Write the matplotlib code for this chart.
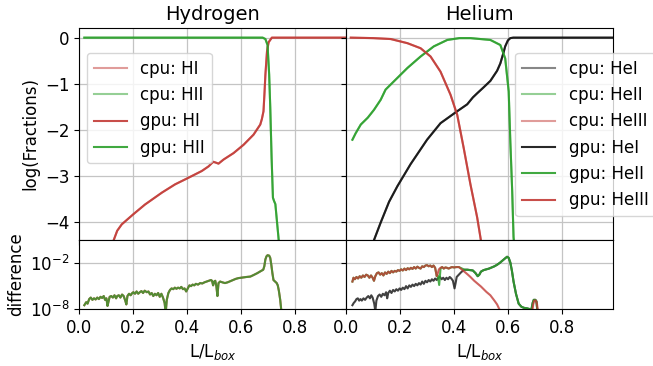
import numpy as np
import matplotlib.pyplot as plt

# ---- Hydrogen fractions (log10) ----
hi_x = [0.118, 0.126, 0.14, 0.157, 0.2, 0.243, 0.306, 0.355, 0.4, 0.454, 0.479, 0.491,
        0.497, 0.507, 0.516, 0.535, 0.572, 0.609, 0.646, 0.671, 0.677, 0.683, 0.687,
        0.69, 0.696, 0.702, 0.714, 0.99]
hi_y = [-4.6, -4.42, -4.2, -4.06, -3.84, -3.63, -3.37, -3.19, -3.06, -2.90, -2.80, -2.73,
        -2.70, -2.72, -2.74, -2.65, -2.51, -2.33, -2.11, -1.89, -1.77, -1.60, -1.17,
        -0.81, -0.30, -0.10, 0.0, 0.0]
hii_x = [0.018, 0.68, 0.69, 0.698, 0.704, 0.708, 0.713, 0.718, 0.722, 0.727, 0.733, 0.741]
hii_y = [0.0, 0.0, -0.03, -0.16, -0.8, -1.5, -2.6, -3.48, -3.55, -3.62, -4.0, -4.5]

# ---- Helium fractions (log10) ----
hei_x = [0.1, 0.128, 0.159, 0.19, 0.239, 0.3, 0.35, 0.412, 0.449, 0.47, 0.486, 0.51,
         0.535, 0.56, 0.572, 0.584, 0.59, 0.6, 0.609, 0.62, 0.99]
hei_y = [-4.45, -4.02, -3.57, -3.23, -2.75, -2.22, -1.86, -1.60, -1.45, -1.3, -1.21, -1.08,
         -0.94, -0.72, -0.56, -0.32, -0.19, -0.06, -0.01, 0.0, 0.0]
heii_x = [0.023, 0.035, 0.054, 0.08, 0.103, 0.128, 0.146, 0.177, 0.227, 0.276, 0.325,
          0.375, 0.42, 0.461, 0.535, 0.572, 0.59, 0.603, 0.609, 0.616, 0.621, 0.625]
heii_y = [-2.22, -2.08, -1.89, -1.74, -1.57, -1.35, -1.13, -0.95, -0.66, -0.41, -0.19,
          -0.05, -0.01, -0.01, -0.05, -0.16, -0.45, -1.17, -2.25, -3.34, -4.34, -4.6]
heiii_x = [0.017, 0.1, 0.165, 0.227, 0.276, 0.313, 0.35, 0.387, 0.412, 0.436, 0.461,
           0.486, 0.498, 0.505]
heiii_y = [0.0, -0.01, -0.03, -0.12, -0.23, -0.41, -0.74, -1.24, -1.68, -2.40, -3.19,
           -3.91, -4.34, -4.6]

# ---- differences cpu-gpu (log10) ----
hdiff_x = [0.018, 0.025, 0.03, 0.036, 0.042, 0.048, 0.054, 0.06, 0.066, 0.072, 0.078,
           0.084, 0.09, 0.095, 0.1, 0.104, 0.108, 0.112, 0.118, 0.124, 0.13, 0.136, 0.14,
           0.146, 0.152, 0.158, 0.164, 0.17, 0.174, 0.178, 0.184, 0.19, 0.196, 0.2, 0.206,
           0.212, 0.218, 0.224, 0.23, 0.236, 0.242, 0.25, 0.256, 0.262, 0.268, 0.274, 0.28,
           0.286, 0.292, 0.298, 0.304, 0.31, 0.316, 0.32, 0.324, 0.33, 0.336, 0.342, 0.348,
           0.354, 0.36, 0.366, 0.372, 0.378, 0.384, 0.39, 0.396, 0.402, 0.408, 0.414, 0.42,
           0.426, 0.432, 0.44, 0.448, 0.456, 0.464, 0.472, 0.48, 0.488, 0.492, 0.496, 0.5,
           0.504, 0.508, 0.512, 0.516, 0.522, 0.53, 0.54, 0.55, 0.56, 0.57, 0.58, 0.59, 0.6,
           0.61, 0.62, 0.634, 0.646, 0.66, 0.672, 0.682, 0.686, 0.69, 0.694, 0.698, 0.704,
           0.708, 0.712, 0.716, 0.72, 0.726, 0.732, 0.736, 0.74, 0.745, 0.75]
hdiff_y = [-7.5, -7.1, -7.3, -6.7, -6.5, -6.8, -6.6, -6.75, -6.5, -6.7, -6.4,
           -6.55, -6.3, -6.8, -6.6, -7.6, -7.0, -6.4, -6.3, -6.5, -6.2, -6.6, -6.3,
           -6.2, -6.5, -6.1, -6.3, -6.9, -7.4, -6.3, -6.0, -6.2, -5.9, -5.8, -6.0,
           -5.7, -6.0, -5.8, -5.65, -5.9, -5.6, -5.8, -5.7, -6.1, -5.9, -6.3, -6.0,
           -6.2, -5.9, -6.4, -6.0, -6.5, -7.2, -8.5, -6.8, -5.9, -5.5, -5.3, -5.4,
           -5.2, -5.35, -5.2, -5.3, -5.1, -5.4, -5.3, -5.7, -5.3, -4.9, -5.0, -4.8,
           -4.9, -4.7, -4.8, -4.6, -4.65, -4.5, -4.4, -4.3, -4.2, -4.3, -4.9, -4.4,
           -4.3, -5.0, -6.3, -4.6, -4.4, -4.5, -4.6, -4.5, -4.35, -4.2, -4.05, -3.95, -3.9,
           -3.85, -3.8, -3.75, -3.55, -3.3, -3.05, -2.85, -2.4, -1.5, -1.1, -0.95, -1.0,
           -1.3, -2.2, -3.3, -4.2, -4.4, -4.6, -4.9, -5.6, -6.8, -8.5]

hei_diff_x = [0.023, 0.028, 0.033, 0.038, 0.043, 0.048, 0.053, 0.058, 0.064, 0.07, 0.076,
              0.082, 0.088, 0.093, 0.098, 0.104, 0.108, 0.112, 0.118, 0.124, 0.13, 0.136,
              0.142, 0.148, 0.152, 0.156, 0.162, 0.168, 0.174, 0.18, 0.186, 0.192, 0.198,
              0.204, 0.21, 0.216, 0.222, 0.228, 0.234, 0.24, 0.246, 0.252, 0.258, 0.264,
              0.27, 0.276, 0.282, 0.288, 0.294, 0.3, 0.306, 0.312, 0.318, 0.324, 0.33,
              0.336, 0.342, 0.348, 0.354, 0.36, 0.366, 0.372, 0.378, 0.384, 0.39, 0.396,
              0.402, 0.406, 0.41, 0.418, 0.426, 0.434, 0.44, 0.45, 0.46, 0.47, 0.48, 0.488,
              0.494, 0.5, 0.51, 0.52, 0.53, 0.54, 0.55, 0.56, 0.57, 0.58, 0.59, 0.597,
              0.603, 0.609, 0.615, 0.621, 0.63, 0.64, 0.65, 0.66, 0.67, 0.68, 0.685, 0.692,
              0.696, 0.702, 0.706, 0.71]
hei_diff_y = [-7.5, -7.2, -7.0, -6.7, -6.6, -6.9, -6.7, -6.9, -6.6, -6.8, -6.5,
              -6.3, -6.6, -6.2, -6.5, -7.3, -8.3, -6.9, -6.3, -6.1, -6.4, -6.0,
              -6.2, -5.8, -6.6, -5.9, -5.6, -5.9, -5.5, -5.7, -5.4, -5.6, -5.3,
              -5.5, -5.2, -5.4, -5.0, -5.3, -4.9, -5.1, -4.8, -5.0, -4.7, -4.9,
              -4.6, -4.8, -4.4, -4.7, -4.3, -4.5, -4.2, -4.4, -4.1, -4.3, -4.0,
              -4.2, -3.9, -3.8, -4.1, -3.9, -4.2, -3.9, -4.1, -3.8, -4.0, -4.3,
              -5.3, -4.6, -3.8, -3.5, -3.2, -2.95, -2.85, -2.85, -2.9, -2.95, -3.3, -3.7,
              -3.5, -3.1, -2.9, -2.8, -2.7, -2.55, -2.4, -2.2, -1.95, -1.65, -1.35, -1.15,
              -1.3, -1.9, -3.0, -4.4, -6.0, -7.3, -7.7, -7.85, -7.9, -8.0, -8.5, -7.2,
              -6.8, -6.8, -7.0, -8.5]

heii_diff_x = [0.023, 0.027, 0.032, 0.038, 0.044, 0.05, 0.056, 0.062, 0.068, 0.074, 0.08,
               0.086, 0.092, 0.098, 0.103, 0.108, 0.114, 0.12, 0.126, 0.132, 0.138, 0.144,
               0.15, 0.156, 0.162, 0.168, 0.174, 0.18, 0.186, 0.192, 0.198, 0.204, 0.21,
               0.216, 0.222, 0.228, 0.234, 0.24, 0.246, 0.252, 0.258, 0.264, 0.27, 0.276,
               0.282, 0.288, 0.294, 0.3, 0.306, 0.312, 0.318, 0.324, 0.33, 0.336, 0.34,
               0.345, 0.35, 0.356, 0.362, 0.368, 0.374, 0.38, 0.386, 0.392, 0.4, 0.41,
               0.418, 0.43, 0.44, 0.45, 0.46, 0.47, 0.48, 0.488, 0.494, 0.5, 0.51, 0.52,
               0.53, 0.54, 0.55, 0.56, 0.57, 0.58, 0.59, 0.597, 0.603, 0.609, 0.615, 0.621,
               0.63, 0.64, 0.65, 0.66, 0.67, 0.68, 0.685, 0.692, 0.696, 0.702, 0.706, 0.71]
heii_diff_y = [-4.4, -3.9, -4.1, -3.8, -4.0, -3.7, -3.9, -3.6, -3.8, -3.5, -3.6,
               -3.9, -3.6, -3.9, -4.3, -3.7, -3.3, -3.2, -3.5, -3.3, -3.6, -3.2,
               -3.4, -3.1, -3.3, -3.0, -3.2, -3.0, -3.1, -2.9, -3.0, -2.8, -2.95,
               -2.7, -2.9, -2.65, -2.8, -2.6, -2.75, -2.5, -2.7, -2.45, -2.6, -2.7,
               -2.4, -2.5, -2.3, -2.25, -2.4, -2.3, -2.5, -2.3, -2.6, -3.7, -3.6,
               -4.85, -2.7, -2.5, -2.7, -2.55, -2.6, -2.7, -2.6, -2.5, -2.55, -2.5,
               -2.5, -2.7, -2.85, -2.85, -2.9, -2.95, -3.3, -3.7, -3.5, -3.1, -2.9, -2.8,
               -2.7, -2.55, -2.4, -2.2, -1.95, -1.65, -1.35, -1.15, -1.3, -1.9, -3.0, -4.4,
               -6.0, -7.3, -7.7, -7.85, -7.9, -8.0, -8.5, -7.2, -6.8, -6.8, -7.0, -8.5]

heiii_diff_x = [0.023, 0.027, 0.032, 0.038, 0.044, 0.05, 0.056, 0.062, 0.068, 0.074, 0.08,
                0.086, 0.092, 0.098, 0.103, 0.108, 0.114, 0.12, 0.126, 0.132, 0.138, 0.144,
                0.15, 0.156, 0.162, 0.168, 0.174, 0.18, 0.186, 0.192, 0.198, 0.204, 0.21,
                0.216, 0.222, 0.228, 0.234, 0.24, 0.246, 0.252, 0.258, 0.264, 0.27, 0.276,
                0.282, 0.288, 0.294, 0.3, 0.306, 0.312, 0.318, 0.324, 0.33, 0.336, 0.34,
                0.344, 0.35, 0.356, 0.362, 0.368, 0.374, 0.38, 0.386, 0.392, 0.4, 0.41,
                0.418, 0.43, 0.44, 0.45, 0.461, 0.475, 0.49, 0.5, 0.51, 0.52, 0.535, 0.55,
                0.56, 0.572, 0.69, 0.694, 0.698, 0.704, 0.708, 0.712]
heiii_diff_y = [-4.4, -3.9, -4.1, -3.8, -4.0, -3.7, -3.9, -3.6, -3.8, -3.5, -3.6,
                -3.9, -3.6, -3.9, -4.3, -3.7, -3.3, -3.2, -3.5, -3.3, -3.6, -3.2,
                -3.4, -3.1, -3.3, -3.0, -3.2, -3.0, -3.1, -2.9, -3.0, -2.8, -2.95,
                -2.7, -2.9, -2.65, -2.8, -2.6, -2.75, -2.5, -2.7, -2.45, -2.6, -2.7,
                -2.4, -2.5, -2.3, -2.25, -2.4, -2.3, -2.5, -2.3, -2.6, -3.7, -3.3,
                -2.8, -2.6, -2.5, -2.7, -2.55, -2.6, -2.7, -2.6, -2.5, -2.55, -2.5,
                -2.5, -2.85, -3.15, -3.45, -3.8, -4.3, -4.75, -5.05, -5.4, -5.75, -6.2, -6.9,
                -7.4, -8.3, -8.5, -7.4, -6.9, -6.9, -7.3, -8.5]

red = '#c23b36'
green = '#2ca02c'
black = '#111111'

plt.rcParams['font.size'] = 12

fig = plt.figure(figsize=(6.53, 3.66), dpi=100)
gs = fig.add_gridspec(2, 2, height_ratios=[3.07, 1], hspace=0, wspace=0,
                      left=0.1217, right=0.9387, top=0.9235, bottom=0.1557)
ax_h = fig.add_subplot(gs[0, 0])
ax_he = fig.add_subplot(gs[0, 1], sharey=ax_h)
ax_hd = fig.add_subplot(gs[1, 0], sharex=ax_h)
ax_hed = fig.add_subplot(gs[1, 1], sharex=ax_he, sharey=ax_hd)

# hydrogen
ax_h.plot(hi_x, hi_y, color=red, alpha=0.5, label='cpu: HI')
ax_h.plot(hii_x, hii_y, color=green, alpha=0.5, label='cpu: HII')
ax_h.plot(hi_x, hi_y, color=red, alpha=0.9, label='gpu: HI')
ax_h.plot(hii_x, hii_y, color=green, alpha=0.9, label='gpu: HII')
ax_h.set_title('Hydrogen', fontsize=14)
ax_h.set_ylabel('log(Fractions)')
ax_h.legend(loc='upper left', bbox_to_anchor=(0.028, 0.882), borderaxespad=0)

# helium
ax_he.plot(hei_x, hei_y, color=black, alpha=0.5, label='cpu: HeI')
ax_he.plot(heii_x, heii_y, color=green, alpha=0.5, label='cpu: HeII')
ax_he.plot(heiii_x, heiii_y, color=red, alpha=0.5, label='cpu: HeIII')
ax_he.plot(hei_x, hei_y, color=black, alpha=0.9, label='gpu: HeI')
ax_he.plot(heii_x, heii_y, color=green, alpha=0.9, label='gpu: HeII')
ax_he.plot(heiii_x, heiii_y, color=red, alpha=0.9, label='gpu: HeIII')
ax_he.set_title('Helium', fontsize=14)
ax_he.legend(loc='upper left', bbox_to_anchor=(0.634, 0.882), borderaxespad=0)

# differences
ax_hd.plot(hdiff_x, 10 ** np.array(hdiff_y), color=red, alpha=0.9)
ax_hd.plot(hdiff_x, 10 ** np.array(hdiff_y), color=green, alpha=0.75)
ax_hed.plot(hei_diff_x, 10 ** np.array(hei_diff_y), color=black, alpha=0.8)
ax_hed.plot(heii_diff_x, 10 ** np.array(heii_diff_y), color=green, alpha=0.85)
ax_hed.plot(heiii_diff_x, 10 ** np.array(heiii_diff_y), color=red, alpha=0.8)

ax_hd.set_yscale('log')
ax_hd.set_ylim(1e-8, 10 ** 1.05)
ax_hd.set_yticks([1e-8, 1e-2])
ax_hd.minorticks_off()
ax_hd.set_ylabel('difference')

ax_h.set_ylim(-4.4, 0.21)
ax_h.set_yticks([0, -1, -2, -3, -4])
for ax in (ax_h, ax_he, ax_hd, ax_hed):
    ax.set_xlim(0, 0.99)
    ax.set_xticks([0.0, 0.2, 0.4, 0.6, 0.8])
    ax.grid(True, color='#c4c4c4', linewidth=0.9)
for ax in (ax_hd, ax_hed):
    ax.set_xlabel('L/L$_{box}$')
ax_hed.yaxis.set_minor_locator(plt.NullLocator())
plt.setp(ax_h.get_xticklabels(), visible=False)
plt.setp(ax_he.get_xticklabels(), visible=False)
plt.setp(ax_he.get_yticklabels(), visible=False)
plt.setp(ax_hed.get_yticklabels(), visible=False)

fig.savefig('out.png', dpi=100)
